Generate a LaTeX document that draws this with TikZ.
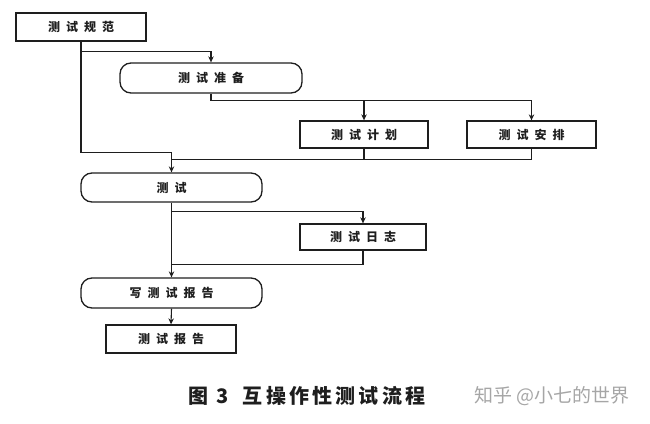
\documentclass[tikz,border=0pt]{standalone}
\usepackage{fontspec}
\usetikzlibrary{arrows.meta}
\newfontfamily\cjk{Noto Sans CJK SC}[LetterSpace=50]
\newfontfamily\cjkcap{Noto Sans CJK SC}[LetterSpace=16]
\newfontfamily\cjkwm{Noto Sans CJK SC}
\definecolor{ink}{HTML}{1E1E1E}
\begin{document}
\begin{tikzpicture}[x=1pt,y=-1pt,
  box/.style={draw=ink,line width=1.3pt,inner sep=0pt,minimum height=28pt,font=\cjk\bfseries\fontsize{12}{14}\selectfont,text=ink},
  rbox/.style={box,rounded corners=11pt},
  conn/.style={draw=ink,line width=1.1pt},
  arr/.style={conn,-{Stealth[length=6pt,width=5.5pt]}}]
\useasboundingbox (0,0) rectangle (650,423);
\node[box,minimum width=130pt] (spec) at (81,27) {测试规范};
\node[rbox,minimum width=182pt,minimum height=30pt] (prep) at (211,78) {测试准备};
\node[box,minimum width=128pt,minimum height=27pt] (plan) at (364,134.5) {测试计划};
\node[box,minimum width=129pt,minimum height=27pt] (sched) at (531.5,134.5) {测试安排};
\node[rbox,minimum width=181pt,minimum height=29pt] (test) at (171.5,187.5) {测试};
\node[box,minimum width=126pt,minimum height=26pt] (log) at (363,237) {测试日志};
\node[rbox,minimum width=181pt,minimum height=30pt] (write) at (171.5,293) {写测试报告};
\node[box,minimum width=130pt,minimum height=28pt] (report) at (171,339) {测试报告};
% connectors
\coordinate (a1) at ([yshift=-10pt]spec.south);
\draw[arr] (a1) -| (prep.north);
\draw[arr] (spec.south) |- ([yshift=20pt]test.north) -- (test.north);
\coordinate (b1) at ([yshift=20pt]sched.north);
\draw[arr] (prep.south) |- (b1) -- (sched.north);
\draw[arr] (plan.north |- b1) -- (plan.north);
\coordinate (c1) at ([yshift=13pt]test.north);
\draw[conn] (sched.south) |- (c1);
\draw[conn] (plan.south) -- (plan.south |- c1);
\draw[arr] (test.south) -- (write.north);
\coordinate (d1) at ([yshift=-9pt]test.south);
\draw[arr] (d1) -| (log.north);
\draw[conn] (log.south) |- ([yshift=13pt]write.north);
\draw[arr] (write.south) -- (report.north);
% captions
\node[inner sep=0pt,text=ink,font=\cjkcap\bfseries\fontsize{20}{23}\selectfont] (cap) at (307,396) {图\hspace{8pt}3\hspace{14pt}互操作性测试流程};
\node[inner sep=0pt,text=black!35,font=\cjkwm\fontsize{19}{22}\selectfont] (wm) at (552,396) {知乎 @小七的世界};
\end{tikzpicture}
\end{document}
